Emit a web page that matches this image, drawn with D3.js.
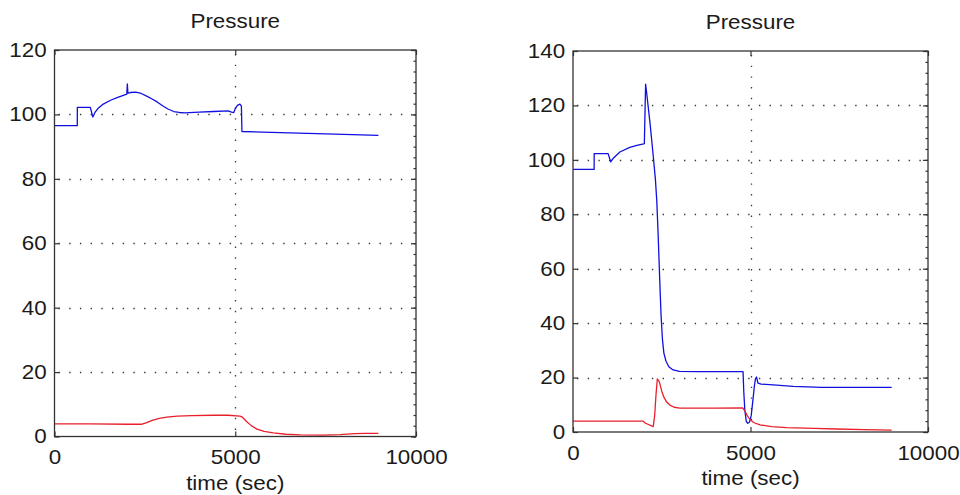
<!DOCTYPE html>
<html>
<head>
<meta charset="utf-8">
<script src="https://cdn.jsdelivr.net/npm/d3@7"></script>
<style>
  body { margin: 0; background: #fff; }
  svg { display: block; font-family: "Liberation Sans", Arial, Helvetica, sans-serif; }
</style>
</head>
<body>
<svg id="chart" width="960" height="495"></svg>
<script>
// ---- data ----
const titles = ["Pressure", "Pressure"];
const xLabel = "time (sec)";
const xTicks = [0, 5000, 10000];
const leftYTicks = [0, 20, 40, 60, 80, 100, 120];
const rightYTicks = [0, 20, 40, 60, 80, 100, 120, 140];

// [time (sec), pressure]
const leftBlue = [
  [0, 96.5], [630, 96.5], [632, 102.2], [990, 102.2], [1060, 99.2], [1120, 100.6],
  [1200, 101.8], [1350, 103.2], [1550, 104.4], [1750, 105.3], [1980, 106.2], [2000, 106.3],
  [2015, 109.5], [2030, 106.6], [2100, 106.8], [2250, 106.9], [2400, 106.5], [2550, 105.7],
  [2700, 104.8], [2850, 103.8], [3000, 102.6], [3150, 101.6], [3300, 100.9], [3450, 100.6],
  [3600, 100.5], [4000, 100.7], [4400, 100.9], [4800, 101.1], [4900, 100.7], [4960, 100.6],
  [5000, 101.8], [5060, 102.8], [5130, 103.2], [5170, 102.6], [5185, 94.7], [6000, 94.4],
  [7000, 94.1], [8000, 93.8], [8960, 93.5]
];
const leftRed = [
  [0, 3.9], [1000, 3.9], [2000, 3.8], [2400, 3.8], [2550, 4.3], [2700, 5.0], [2900, 5.6],
  [3100, 6.0], [3400, 6.3], [3800, 6.5], [4400, 6.6], [4800, 6.6], [5130, 6.3], [5200, 6.0],
  [5320, 4.6], [5450, 3.3], [5600, 2.3], [5800, 1.6], [6050, 1.1], [6400, 0.7], [6800, 0.5],
  [7400, 0.45], [7900, 0.6], [8300, 0.9], [8600, 1.0], [8960, 1.0]
];
const rightBlue = [
  [0, 96.5], [595, 96.5], [597, 102.3], [990, 102.3], [1060, 99.3], [1150, 100.8],
  [1320, 102.9], [1600, 104.6], [1800, 105.3], [1990, 105.9], [2010, 106], [2045, 127.8],
  [2080, 124], [2170, 113.4], [2260, 101.5], [2320, 93], [2360, 85], [2400, 72], [2440, 57],
  [2480, 43], [2520, 34], [2560, 29], [2620, 26], [2700, 24], [2820, 22.8], [3000, 22.3],
  [3500, 22.2], [4790, 22.2], [4810, 15], [4840, 8], [4880, 4], [4920, 3.2], [4970, 3.6],
  [5020, 6], [5070, 12], [5110, 17], [5140, 19.5], [5170, 20.2], [5210, 18], [5300, 17.6],
  [5640, 17.3], [6200, 16.8], [7000, 16.4], [8000, 16.4], [8977, 16.4]
];
const rightRed = [
  [0, 4.0], [1980, 4.0], [2030, 3.3], [2260, 2.0], [2300, 6], [2340, 14], [2375, 19.5],
  [2430, 18.5], [2500, 15], [2560, 12.8], [2640, 11], [2730, 9.9], [2850, 9.1], [3010, 8.8],
  [4000, 8.8], [4780, 8.9], [4840, 7.8], [4900, 6.2], [4990, 4.5], [5100, 3.4], [5270, 2.6],
  [5600, 2.0], [6020, 1.6], [6800, 1.3], [7430, 1.1], [8200, 0.9], [8977, 0.7]
];

// ---- layout ----
const layout = [
  { left: 54.5, right: 416, top: 50, bottom: 436.5, minorDiv: 6 },
  { left: 573, right: 928, top: 51, bottom: 432, minorDiv: 5 }
];
const panels = [
  { title: titles[0], series: [leftBlue, leftRed], yTicks: leftYTicks },
  { title: titles[1], series: [rightBlue, rightRed], yTicks: rightYTicks }
];
const seriesColors = ["#1010e0", "#e8202c"];
const textColor = "#1a1a1a";
const axisColor = "#333";
const stretch = 1.12;
const fontSize = 20;

const svg = d3.select("#chart");

panels.forEach((p, i) => {
  const L = layout[i];
  const yMax = d3.max(p.yTicks);
  const x = d3.scaleLinear().domain([0, 10000]).range([L.left, L.right]);
  const y = d3.scaleLinear().domain([0, yMax]).range([L.bottom, L.top]);
  const g = svg.append("g");

  // dotted grid: horizontal at interior y ticks, vertical at the middle x tick
  g.selectAll("line.hgrid")
    .data(p.yTicks.filter(v => v > 0 && v < yMax))
    .join("line")
    .attr("x1", L.left + 4).attr("x2", L.right - 4)
    .attr("y1", d => Math.round(y(d)) + 0.5).attr("y2", d => Math.round(y(d)) + 0.5)
    .attr("stroke", "#3a3a3a").attr("stroke-width", 1.3)
    .attr("stroke-dasharray", "1.4 9.3");
  g.selectAll("line.vgrid")
    .data(xTicks.filter(v => v > 0 && v < 10000))
    .join("line")
    .attr("x1", d => Math.round(x(d)) + 0.5).attr("x2", d => Math.round(x(d)) + 0.5)
    .attr("y1", L.top + 4).attr("y2", L.bottom - 4)
    .attr("stroke", "#3a3a3a").attr("stroke-width", 1.3)
    .attr("stroke-dasharray", "1.4 9.3");

  // data lines
  const line = d3.line().x(d => x(d[0])).y(d => y(d[1]));
  p.series.forEach((s, k) => {
    g.append("path")
      .attr("d", line(s))
      .attr("fill", "none")
      .attr("stroke", seriesColors[k])
      .attr("stroke-width", 1.3)
      .attr("stroke-linejoin", "round");
  });

  // axes (ticks pointing inward)
  const bottomAxis = d3.axisBottom(x).tickValues(xTicks).tickFormat(d3.format("d"))
    .tickSizeInner(-5).tickSizeOuter(0).tickPadding(13.5);
  const leftAxis = d3.axisLeft(y).tickValues(p.yTicks).tickFormat(d3.format("d"))
    .tickSizeInner(-5).tickSizeOuter(0).tickPadding(7);
  const topAxis = d3.axisTop(x).tickValues(xTicks).tickFormat("")
    .tickSizeInner(-5).tickSizeOuter(0);
  const minorTicks = d3.range(0, yMax + 1e-9, p.yTicks[1] / L.minorDiv);
  const rightMinor = d3.axisRight(y).tickValues(minorTicks).tickFormat("")
    .tickSizeInner(-2.5).tickSizeOuter(0);
  const rightMajor = d3.axisRight(y).tickValues(p.yTicks).tickFormat("")
    .tickSizeInner(-5).tickSizeOuter(0);

  const axes = [
    g.append("g").attr("transform", `translate(0,${L.bottom})`).call(bottomAxis),
    g.append("g").attr("transform", `translate(${L.left},0)`).call(leftAxis),
    g.append("g").attr("transform", `translate(0,${L.top})`).call(topAxis),
    g.append("g").attr("transform", `translate(${L.right},0)`).call(rightMinor),
    g.append("g").attr("transform", `translate(${L.right},0)`).call(rightMajor)
  ];
  axes.forEach(a => {
    a.select(".domain").remove();
    a.selectAll("line").attr("stroke", axisColor).attr("stroke-width", 1.2);
    a.selectAll("text")
      .attr("fill", textColor)
      .attr("font-size", fontSize)
      .attr("font-family", "Liberation Sans, Arial, sans-serif")
      .attr("transform", `scale(${stretch},1)`);
  });

  // box
  g.append("rect")
    .attr("x", L.left).attr("y", L.top)
    .attr("width", L.right - L.left).attr("height", L.bottom - L.top)
    .attr("fill", "none").attr("stroke", axisColor).attr("stroke-width", 1.3);

  // title and x label
  const cx = (L.left + L.right) / 2;
  g.append("text")
    .attr("transform", `translate(${cx},${L.top - 22}) scale(${stretch},1)`)
    .attr("text-anchor", "middle")
    .attr("font-size", 20)
    .attr("fill", textColor)
    .text(p.title);
  g.append("text")
    .attr("transform", `translate(${cx},${L.bottom + 53}) scale(${stretch},1)`)
    .attr("text-anchor", "middle")
    .attr("font-size", fontSize)
    .attr("fill", textColor)
    .text(xLabel);
});
</script>
</body>
</html>
